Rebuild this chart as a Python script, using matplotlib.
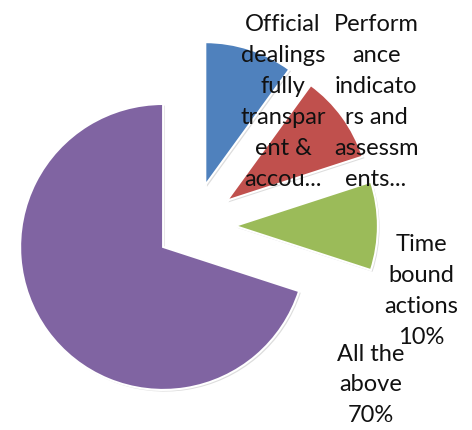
import matplotlib
matplotlib.use("Agg")
import matplotlib.pyplot as plt
import matplotlib.patheffects as pe

categories = ["Official dealings fully transparent & accountable",
              "Performance indicators and assessments",
              "Time bound actions",
              "All the above"]
values = [10, 10, 10, 70]
label_texts = ["Official\ndealings\nfully\ntranspar\nent &\naccou...",
               "Perform\nance\nindicato\nrs and\nassessm\nents...",
               "Time\nbound\nactions\n10%",
               "All the\nabove\n70%"]
colors = ["#4F81BD", "#C0504D", "#9BBB59", "#8064A2"]
explode = [0.30, 0.30, 0.30, 0.25]
label_pos = [(0.636, 0.867), (1.287, 0.867), (1.601, -0.455), (1.252, -1.112)]

plt.rcParams['font.family'] = ['Lato', 'DejaVu Sans']

fig = plt.figure(figsize=(4.72, 4.30), dpi=100)
ax = fig.add_axes([0, 0, 1, 1])
wedges, _ = ax.pie(values, colors=colors, explode=explode, startangle=90,
                   counterclock=False, radius=1.0,
                   wedgeprops=dict(edgecolor="white", linewidth=1.5))
for w in wedges:
    w.set_path_effects([pe.SimplePatchShadow(offset=(1.2, -1.2), shadow_rgbFace="#aaaaaa", alpha=0.4),
                        pe.Normal()])

for txt, (x, y) in zip(label_texts, label_pos):
    ax.text(x, y, txt, ha="center", va="center", fontsize=17,
            linespacing=1.58, color="#111111")

ax.set_xlim(-1.343, 1.958)
ax.set_ylim(-1.427, 1.580)
ax.set_aspect("equal")
ax.axis("off")
fig.savefig("out.png", dpi=100)
